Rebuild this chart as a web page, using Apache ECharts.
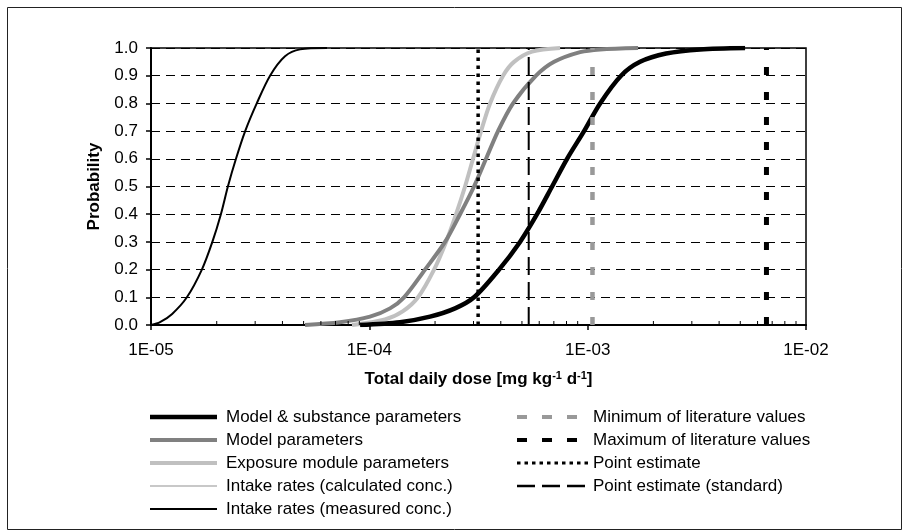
<!DOCTYPE html>
<html><head><meta charset="utf-8">
<script src="https://cdn.jsdelivr.net/npm/echarts@6/dist/echarts.min.js"></script>
<style>html,body{margin:0;padding:0;background:#fff}#c{width:910px;height:531px}</style>
</head><body><div id="c"></div><script>
// ---- tick labels ----
const xTickLabels = ['1E-05', '1E-04', '1E-03', '1E-02'];
const yTickLabels = ['0.0', '0.1', '0.2', '0.3', '0.4', '0.5', '0.6', '0.7', '0.8', '0.9', '1.0'];
const minorTickValues = [2e-5, 3e-5, 4e-5, 5e-5, 6e-5, 7e-5, 8e-5, 9e-5,
  2e-4, 3e-4, 4e-4, 5e-4, 6e-4, 7e-4, 8e-4, 9e-4,
  2e-3, 3e-3, 4e-3, 5e-3, 6e-3, 7e-3, 8e-3, 9e-3];

// ---- series data (dose in mg/kg/d, cumulative probability) ----
const measuredDose = [1.0e-5, 1.1e-5, 1.25e-5, 1.46e-5, 1.71e-5, 1.91e-5, 2.09e-5, 2.25e-5, 2.45e-5, 2.70e-5, 3.05e-5, 3.51e-5, 4.11e-5, 4.82e-5, 6.4e-5];
const measuredProb = [0.0, 0.01, 0.04, 0.1, 0.2, 0.3, 0.4, 0.5, 0.6, 0.7, 0.8, 0.9, 0.97, 0.995, 1.0];

const calculatedDose = [8.33e-5, 1.180e-4, 1.427e-4, 1.671e-4, 1.979e-4, 2.246e-4, 2.496e-4, 2.744e-4, 2.985e-4, 3.249e-4, 3.572e-4, 4.097e-4, 4.600e-4, 5.563e-4, 7.475e-4];
const calculatedProb = [0.0, 0.02, 0.05, 0.1, 0.2, 0.3, 0.4, 0.5, 0.6, 0.7, 0.8, 0.9, 0.95, 0.987, 1.0];

const exposureDose = [8.33e-5, 1.180e-4, 1.427e-4, 1.671e-4, 1.979e-4, 2.246e-4, 2.496e-4, 2.744e-4, 2.985e-4, 3.249e-4, 3.572e-4, 4.097e-4, 4.600e-4, 5.563e-4, 7.475e-4];
const exposureProb = [0.0, 0.02, 0.05, 0.1, 0.2, 0.3, 0.4, 0.5, 0.6, 0.7, 0.8, 0.9, 0.95, 0.987, 1.0];

const modelDose = [5.075e-5, 7.34e-5, 1.007e-4, 1.244e-4, 1.442e-4, 1.799e-4, 2.222e-4, 2.603e-4, 3.017e-4, 3.424e-4, 3.886e-4, 4.552e-4, 5.801e-4, 7.018e-4, 9.23e-4, 1.140e-3, 1.702e-3];
const modelProb = [0.0, 0.01, 0.03, 0.06, 0.1, 0.2, 0.3, 0.4, 0.5, 0.6, 0.7, 0.8, 0.9, 0.95, 0.985, 0.995, 1.0];

const modelSubstDose = [9.07e-5, 1.382e-4, 1.897e-4, 2.470e-4, 3.017e-4, 3.927e-4, 4.900e-4, 5.863e-4, 6.871e-4, 8.047e-4, 9.627e-4, 1.140e-3, 1.422e-3, 1.738e-3, 2.286e-3, 3.273e-3, 5.260e-3];
const modelSubstProb = [0.0, 0.01, 0.03, 0.06, 0.1, 0.2, 0.3, 0.4, 0.5, 0.6, 0.7, 0.8, 0.9, 0.95, 0.98, 0.995, 1.0];

// ---- reference doses (vertical lines) ----
const minLiterature = 1.052e-3;
const maxLiterature = 6.59e-3;
const pointEstimate = 3.15e-4;
const pointEstimateStd = 5.37e-4;

const legendLeft = ['Model & substance parameters', 'Model parameters', 'Exposure module parameters', 'Intake rates (calculated conc.)', 'Intake rates (measured conc.)'];
const legendRight = ['Minimum of literature values', 'Maximum of literature values', 'Point estimate', 'Point estimate (standard)'];

const FONT = "'Liberation Sans', Arial, sans-serif";
const zip = (xs, ys) => xs.map((x, i) => [x, ys[i]]);
const vline = x => [[x, 0], [x, 1]];

function curve(name, dose, prob, color, width, z) {
  return { name, type: 'line', data: zip(dose, prob), smooth: 0.3, symbol: 'none', z,
    lineStyle: { color, width, join: 'round' }, silent: true, animation: false };
}
function vser(name, x, color, width, dash, z) {
  return { name, type: 'line', data: vline(x), symbol: 'none', z,
    lineStyle: { color, width, type: dash, cap: 'butt' }, silent: true, animation: false };
}

// legend graphics
const rowY0 = 417, rowDY = 23;
const leftStyles = [
  { stroke: '#000', lineWidth: 4.5 },
  { stroke: '#808080', lineWidth: 4 },
  { stroke: '#c0c0c0', lineWidth: 4 },
  { stroke: '#c8c8c8', lineWidth: 2 },
  { stroke: '#000', lineWidth: 2 }
];
const rightStyles = [
  { stroke: '#999', lineWidth: 4, lineDash: [10, 15], x2: 577 },
  { stroke: '#000', lineWidth: 4, lineDash: [10, 15], x2: 577 },
  { stroke: '#000', lineWidth: 3, lineDash: [3.5, 4], x2: 590 },
  { stroke: '#000', lineWidth: 2.5, lineDash: [18, 7], x2: 590 }
];
const graphics = [{ type: 'rect', shape: { x: 7.5, y: 7.5, width: 894, height: 522 },
  style: { fill: 'none', stroke: '#222', lineWidth: 1 }, silent: true }];
legendLeft.forEach((t, i) => {
  const y = rowY0 + i * rowDY;
  graphics.push({ type: 'line', shape: { x1: 150, y1: y, x2: 217, y2: y }, style: Object.assign({ lineCap: 'butt' }, leftStyles[i]), silent: true });
  graphics.push({ type: 'text', x: 226, y: y, style: { text: t, font: '17px ' + FONT, fill: '#000', verticalAlign: 'middle' }, silent: true });
});
legendRight.forEach((t, i) => {
  const y = rowY0 + i * rowDY;
  const s = rightStyles[i];
  graphics.push({ type: 'line', shape: { x1: 517, y1: y, x2: s.x2, y2: y }, style: { stroke: s.stroke, lineWidth: s.lineWidth, lineDash: s.lineDash, lineCap: 'butt' }, silent: true });
  graphics.push({ type: 'text', x: 593, y: y, style: { text: t, font: '17px ' + FONT, fill: '#000', verticalAlign: 'middle' }, silent: true });
});

const chart = echarts.init(document.getElementById('c'), null, { renderer: 'canvas' });
chart.setOption({
  animation: false,
  backgroundColor: '#fff',
  textStyle: { fontFamily: FONT },
  grid: { left: 151, right: 104, top: 48, bottom: 206, show: true, borderColor: '#000', borderWidth: 1.5, backgroundColor: 'transparent' },
  xAxis: {
    type: 'log', logBase: 10, min: 1e-5, max: 1e-2,
    name: 'Total daily dose [mg kg{s|-1} d{s|-1}]', nameLocation: 'middle', nameGap: 45,
    nameTextStyle: { fontFamily: FONT, fontSize: 17, fontWeight: 'bold', color: '#000',
      rich: { s: { fontFamily: FONT, fontSize: 11, fontWeight: 'bold', color: '#000', padding: [0, 0, 8, 0] } } },
    axisLine: { show: true, lineStyle: { color: '#000', width: 2 } },
    axisTick: { show: true, length: 5, lineStyle: { color: '#000', width: 1.5 } },
    minorTick: { show: false },
    axisLabel: { margin: 17, fontSize: 17, color: '#000', fontFamily: FONT,
      formatter: v => xTickLabels[Math.round(Math.log10(v)) + 5] },
    splitLine: { show: false }
  },
  yAxis: {
    type: 'value', min: 0, max: 1, interval: 0.1,
    name: 'Probability', nameLocation: 'middle', nameGap: 48,
    nameTextStyle: { fontFamily: FONT, fontSize: 17, fontWeight: 'bold', color: '#000' },
    axisLine: { show: true, lineStyle: { color: '#000', width: 2 } },
    axisTick: { show: true, length: 5, lineStyle: { color: '#000', width: 1.5 } },
    axisLabel: { margin: 13, fontSize: 17, color: '#000', fontFamily: FONT,
      formatter: v => yTickLabels[Math.round(v * 10)] },
    splitLine: { show: true, lineStyle: { color: '#000', width: 1, type: [9, 6] } }
  },
  series: [
    curve('Intake rates (measured conc.)', measuredDose, measuredProb, '#000', 2, 3),
    curve('Intake rates (calculated conc.)', calculatedDose, calculatedProb, '#c8c8c8', 2, 3),
    curve('Exposure module parameters', exposureDose, exposureProb, '#c0c0c0', 4, 4),
    curve('Model parameters', modelDose, modelProb, '#808080', 4, 5),
    curve('Model & substance parameters', modelSubstDose, modelSubstProb, '#000', 4.5, 6),
    vser('Minimum of literature values', minLiterature, '#999', 4.5, [8, 17], 7),
    vser('Maximum of literature values', maxLiterature, '#000', 5, [8, 17], 7),
    vser('Point estimate', pointEstimate, '#000', 3.5, [3.5, 4.5], 7),
    vser('Point estimate (standard)', pointEstimateStd, '#000', 2, [18, 7], 7),
    {
      name: 'minor ticks', type: 'custom', silent: true, z: 8, animation: false,
      data: minorTickValues.map(v => [v, 0]),
      renderItem: (params, api) => {
        const p = api.coord([api.value(0), 0]);
        return { type: 'line', shape: { x1: p[0], y1: p[1], x2: p[0], y2: p[1] - 4 },
          style: { stroke: '#000', lineWidth: 1 } };
      }
    }
  ],
  graphic: graphics
});
</script></body></html>
